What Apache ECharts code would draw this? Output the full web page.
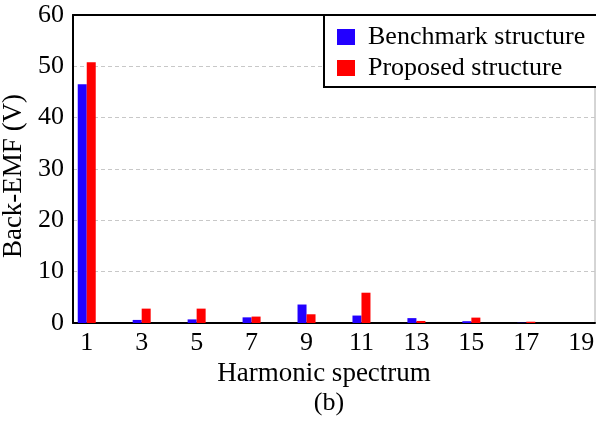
<!DOCTYPE html>
<html>
<head>
<meta charset="utf-8">
<script src="https://cdn.jsdelivr.net/npm/echarts@6/dist/echarts.min.js"></script>
<style>html,body{margin:0;padding:0;background:#fff}#c{width:596px;height:425px}</style>
</head>
<body>
<div id="c"></div>
<script>
const categories = ['1','2','3','4','5','6','7','8','9','10','11','12','13','14','15','16','17','18','19'];
const benchmark = [46.5,0,0.6,0,0.7,0,1.1,0,3.6,0,1.45,0,0.95,0,0.35,0,0.05,0,0];
const proposed  = [50.8,0,2.8,0,2.8,0,1.25,0,1.7,0,5.9,0,0.4,0,1.05,0,0.25,0,0];
const yTicks = [0,10,20,30,40,50,60];

const font = 'Liberation Serif';
const chart = echarts.init(document.getElementById('c'), null, {renderer:'canvas'});
chart.setOption({
  animation:false,
  backgroundColor:'#fff',
  title:{text:'(b)', left:324, top:385, textAlign:'center',
    textStyle:{fontFamily:font, fontSize:26, fontWeight:'normal', color:'#000'}},
  grid:{left:73, right:1, top:15, bottom:102, show:true, borderColor:'#aaa', borderWidth:1,
    containLabel:false, outerBoundsMode:'none'},
  legend:{
    orient:'vertical', left:324, top:15, itemWidth:18, itemHeight:16, itemGap:5,
    padding:[9,40,6,13], borderColor:'#000', borderWidth:2, backgroundColor:'#fff',
    icon:'rect',
    textStyle:{fontFamily:font, fontSize:26, color:'#000', padding:[0,0,0,8]},
    data:['Benchmark structure','Proposed structure']
  },
  xAxis:[{
    type:'category', data:categories, position:'bottom',
    axisLine:{lineStyle:{color:'#000', width:2}},
    axisTick:{show:false},
    axisLabel:{interval:1, fontFamily:font, fontSize:26, color:'#000', margin:7},
    name:'Harmonic spectrum', nameLocation:'middle', nameGap:31,
    nameTextStyle:{fontFamily:font, fontSize:27, color:'#000', padding:[0,20,0,0]}
  },{
    type:'category', data:categories, position:'top',
    axisLine:{lineStyle:{color:'#000', width:2}},
    axisTick:{show:false}, axisLabel:{show:false}
  }],
  yAxis:{
    type:'value', min:0, max:60, interval:10,
    axisLine:{show:true, lineStyle:{color:'#000', width:2}},
    axisTick:{show:false},
    axisLabel:{fontFamily:font, fontSize:26, color:'#000', margin:9},
    splitLine:{show:true, lineStyle:{color:'#c8c8c8', type:[4,3], width:1}},
    name:'Back-EMF (V)', nameLocation:'middle', nameGap:45,
    nameTextStyle:{fontFamily:font, fontSize:27, color:'#000', padding:[0,14,0,0]}
  },
  series:[
    {name:'Benchmark structure', type:'bar', data:benchmark, barWidth:9, barGap:'0%',
     itemStyle:{color:'#2200ff'}},
    {name:'Proposed structure', type:'bar', data:proposed, barWidth:9, barGap:'0%',
     itemStyle:{color:'#ff0000'}}
  ]
});
</script>
</body>
</html>
